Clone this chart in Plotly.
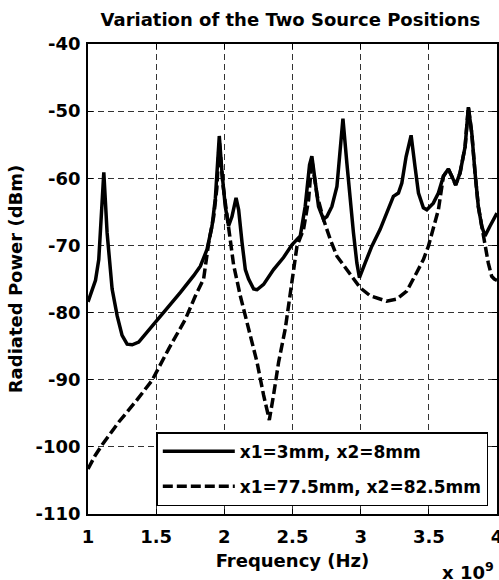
import plotly.graph_objects as go

# ---- data (frequency in GHz, i.e. x 10^9 Hz; power in dBm) ----
freq_a = [1.000, 1.055, 1.079, 1.100, 1.116, 1.140, 1.177, 1.214, 1.250, 1.287,
          1.324, 1.372, 1.434, 1.494, 1.580, 1.678, 1.775, 1.824, 1.873, 1.910,
          1.934, 1.958, 1.963, 1.983, 2.007, 2.031, 2.056, 2.086, 2.105, 2.130,
          2.154, 2.178, 2.215, 2.240, 2.288, 2.361, 2.434, 2.496, 2.557, 2.593,
          2.625, 2.642, 2.667, 2.691, 2.727, 2.752, 2.789, 2.826, 2.845, 2.870,
          2.899, 2.923, 2.947, 2.972, 2.991, 3.033, 3.082, 3.143, 3.204, 3.240,
          3.277, 3.302, 3.333, 3.370, 3.399, 3.424, 3.460, 3.485, 3.533, 3.570,
          3.607, 3.643, 3.680, 3.697, 3.729, 3.766, 3.790, 3.815, 3.839, 3.863,
          3.888, 3.912, 3.949, 4.000]
power_a = [-78.4, -75.2, -72.1, -65.0, -59.1, -68.1, -76.5, -80.5, -83.4, -84.7,
           -84.8, -84.4, -82.9, -81.5, -79.5, -77.0, -74.5, -73.1, -70.6, -67.1,
           -63.0, -55.0, -53.7, -59.2, -64.2, -67.1, -65.7, -62.9, -64.7, -69.6,
           -73.6, -75.0, -76.5, -76.6, -75.8, -73.6, -71.8, -69.9, -68.6, -64.2,
           -58.0, -56.7, -60.7, -64.2, -66.1, -65.7, -64.2, -61.2, -56.8, -51.1,
           -57.8, -63.2, -68.1, -72.6, -74.8, -72.6, -70.1, -67.6, -64.7, -62.7,
           -62.2, -60.7, -56.8, -53.6, -58.3, -62.2, -64.4, -64.7, -63.7, -62.2,
           -59.7, -58.6, -60.2, -61.0, -59.2, -55.3, -49.4, -53.3, -59.2, -64.2,
           -67.1, -68.6, -67.1, -65.2]

freq_b = [1.000, 1.055, 1.104, 1.226, 1.348, 1.470, 1.592, 1.714, 1.788, 1.848,
          1.885, 1.922, 1.945, 1.963, 1.990, 2.031, 2.068, 2.117, 2.178, 2.240,
          2.288, 2.330, 2.361, 2.398, 2.447, 2.496, 2.533, 2.581, 2.618, 2.642,
          2.680, 2.727, 2.777, 2.826, 2.899, 2.996, 3.070, 3.190, 3.265, 3.338,
          3.412, 3.460, 3.497, 3.533, 3.570, 3.607, 3.643, 3.680, 3.697, 3.729,
          3.766, 3.790, 3.815, 3.839, 3.863, 3.888, 3.912, 3.936, 3.961, 3.980,
          4.000]
power_b = [-103.3, -101.2, -99.7, -96.3, -93.3, -90.1, -85.4, -81.0, -77.5, -75.0,
           -69.6, -65.7, -61.5, -54.5, -61.0, -67.6, -72.9, -77.5, -82.4, -87.4,
           -92.3, -96.0, -92.3, -87.4, -82.4, -75.0, -70.1, -67.6, -63.2, -57.3,
           -62.5, -66.1, -69.1, -71.6, -73.6, -76.3, -77.5, -78.3, -78.0, -76.8,
           -74.0, -72.1, -70.1, -67.6, -64.7, -59.7, -58.6, -60.2, -61.0, -59.2,
           -55.3, -49.4, -53.3, -59.2, -64.2, -67.1, -70.1, -72.6, -74.6, -75.0,
           -75.2]

name_a = "x1=3mm, x2=8mm"
name_b = "x1=77.5mm, x2=82.5mm"

x_ticks = [1, 1.5, 2, 2.5, 3, 3.5, 4]
x_tick_text = ["1", "1.5", "2", "2.5", "3", "3.5", "4"]
y_ticks = [-110, -100, -90, -80, -70, -60, -50, -40]
y_tick_text = ["-110", "-100", "-90", "-80", "-70", "-60", "-50", "-40"]

FONT = "DejaVu Sans"
FS = 18
FS_LEG = 17

fig = go.Figure()
fig.add_trace(go.Scatter(x=freq_a, y=power_a, mode="lines", name=name_a,
                         legendgroup="a",
                         line=dict(color="black", width=3.5)))
fig.add_trace(go.Scatter(x=freq_b, y=power_b, mode="lines", name=name_b,
                         legendgroup="b",
                         line=dict(color="black", width=3.5, dash="10px,4px")))

axis_common = dict(
    showline=True, linecolor="black", linewidth=1.5, mirror="ticks",
    ticks="inside", ticklen=5, tickwidth=1, tickcolor="black",
    showgrid=True, gridcolor="#333333", gridwidth=1, griddash="6px,4px",
    zeroline=False, ticklabeloverflow="allow",
    tickfont=dict(family=FONT, size=FS, color="black", weight="bold"),
)

fig.update_xaxes(range=[1, 4], tickvals=x_ticks, ticktext=x_tick_text,
                 ticklabelstandoff=6,
                 title=dict(text="Frequency (Hz)", standoff=8,
                            font=dict(family=FONT, size=FS, color="black", weight="bold")),
                 **axis_common)
fig.update_yaxes(range=[-110, -40], tickvals=y_ticks, ticktext=y_tick_text,
                 ticklabelstandoff=2,
                 title=dict(text="Radiated Power (dBm)", standoff=8,
                            font=dict(family=FONT, size=FS, color="black", weight="bold")),
                 **axis_common)

fig.add_annotation(text="x 10<sup>9</sup>", xref="paper", yref="paper",
                   x=0.998, y=-0.122, xanchor="right", yanchor="middle",
                   showarrow=False,
                   font=dict(family=FONT, size=FS, color="black", weight="bold"))

fig.update_layout(
    width=499, height=580,
    margin=dict(l=87.5, r=2, t=43.5, b=66, autoexpand=False),
    paper_bgcolor="white", plot_bgcolor="white",
    title=dict(text="Variation of the Two Source Positions",
               x=0.582, xanchor="center", xref="container",
               y=1 - 20 / 580, yanchor="middle", yref="container",
               font=dict(family=FONT, size=FS, color="black", weight="bold")),
    showlegend=True,
    legend=dict(x=0.167, y=0.174, xanchor="left", yanchor="top",
                bgcolor="white", bordercolor="black", borderwidth=1.5,
                font=dict(family=FONT, size=FS_LEG, color="black", weight="bold"),
                tracegroupgap=10, itemwidth=72),
)

fig.write_html("out.html", config={"displayModeBar": False},
               post_script="document.body.style.margin='0';")
